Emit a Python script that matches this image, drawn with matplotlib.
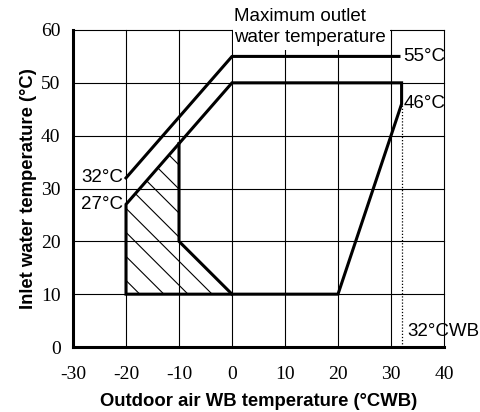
import numpy as np
import matplotlib.pyplot as plt
from matplotlib.patches import Polygon, Rectangle

# operating range (outdoor WB temp, inlet water temp)
range_x = [-20, -20, 0, 32, 32, 20]
range_y = [10, 27, 50, 50, 46, 10]
max_outlet_x = [-20, 0, 31.5]
max_outlet_y = [32, 55, 55]
hatch_x = [-20, -20, -10, -10, 0]
hatch_y = [10, 27, 38.5, 20, 10]
wb_limit = 32

x_ticks = [-30, -20, -10, 0, 10, 20, 30, 40]
y_ticks = [0, 10, 20, 30, 40, 50, 60]

SANS = ["Liberation Sans", "DejaVu Sans"]
SERIF = ["Liberation Serif", "DejaVu Serif"]


def main():
    fig = plt.figure(figsize=(4.81, 4.12), dpi=100)
    ax = fig.add_axes([73 / 481, 1 - 347 / 412, 371 / 481, 317 / 412])
    ax.set_xlim(-30, 40)
    ax.set_ylim(0, 60)

    # grid
    for xv in x_ticks[1:]:
        ax.plot([xv, xv], [0, 60], color="black", lw=0.8, zorder=1, clip_on=False)
    for yv in y_ticks[1:]:
        ax.plot([-30, 40], [yv, yv], color="black", lw=0.8, zorder=1, clip_on=False)
    for s in ["top", "right"]:
        ax.spines[s].set_visible(False)
    for s in ["left", "bottom"]:
        ax.spines[s].set_linewidth(2.2)

    ax.set_xticks(x_ticks)
    ax.set_yticks(y_ticks)
    ax.tick_params(length=0)
    ax.set_xticklabels([str(v) for v in x_ticks], family=SERIF, fontsize=14)
    ax.set_yticklabels([str(v) for v in y_ticks], family=SERIF, fontsize=14)
    ax.tick_params(axis="y", pad=9)
    ax.tick_params(axis="x", pad=14)

    # hatched region
    hpoly = Polygon(list(zip(hatch_x, hatch_y)), closed=True, fill=False, lw=0, zorder=2)
    ax.add_patch(hpoly)
    for c in np.arange(-7.4, 30, 4.55):
        ln, = ax.plot([-25, 5], [c + 25, c - 5], color="black", lw=0.8, zorder=2)
        ln.set_clip_path(hpoly)
    ax.plot([-10, -10, 0], [38.5, 20, 10], color="black", lw=2.2, zorder=3)

    # range outline
    ax.add_patch(Polygon(list(zip(range_x, range_y)), closed=True, fill=False,
                         lw=2.2, ec="black", zorder=3, joinstyle="miter"))
    ax.plot(max_outlet_x, max_outlet_y, color="black", lw=2.2, zorder=3)
    ax.plot([wb_limit, wb_limit], [0, 46], color="black", lw=0.9, ls=(0, (1, 1.5)), zorder=3)

    # text box covering grid
    ax.add_patch(Rectangle((0.15, 56.2), 29.7, 5, fc="white", ec="none", zorder=1.5, clip_on=False))

    kw = dict(family=SANS, fontsize=13.5, zorder=4)
    ax.text(0.4, 56.9, "water temperature", ha="left", va="bottom", **kw)
    ax.text(0.4, 61.0, "Maximum outlet", ha="left", va="bottom", **kw)
    ax.text(-20.5, 32, "32°C", ha="right", va="center", **kw)
    ax.text(-20.5, 27, "27°C", ha="right", va="center", **kw)
    ax.text(32.3, 55, "55°C", ha="left", va="center", **kw)
    ax.text(32.4, 46, "46°C", ha="left", va="center", **kw)
    ax.text(33.0, 3, "32°CWB", ha="left", va="center", **kw)

    ax.set_xlabel("Outdoor air WB temperature (°CWB)", family=SANS, fontsize=13.3,
                  fontweight="bold", labelpad=7)
    ax.set_ylabel("Inlet water temperature (°C)", family=SANS, fontsize=13.3,
                  fontweight="bold", labelpad=3)

    fig.savefig("out.png", dpi=100)


if __name__ == "__main__":
    main()
